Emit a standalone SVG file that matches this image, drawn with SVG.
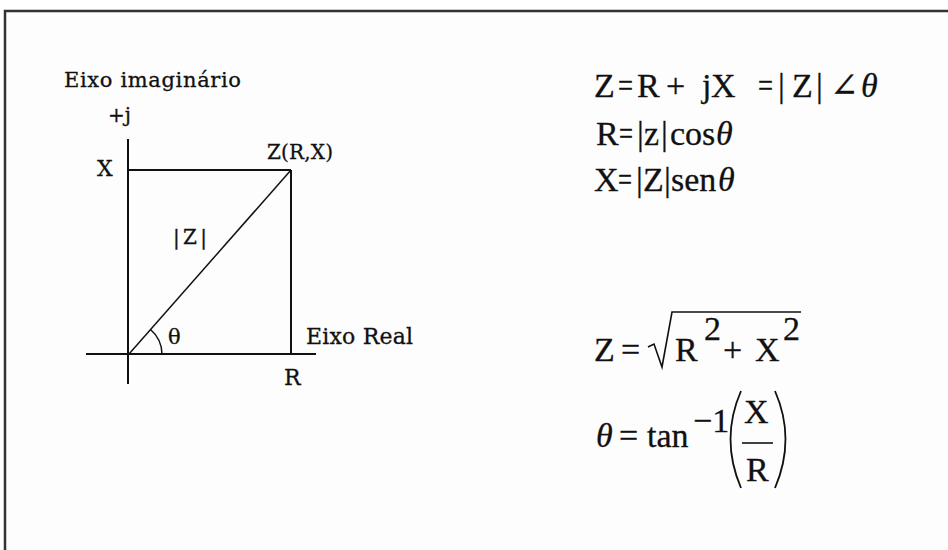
<svg xmlns="http://www.w3.org/2000/svg" width="948" height="550" viewBox="0 0 948 550">
<style>
.lbl{font-family:"DejaVu Serif","Liberation Serif",serif;fill:#111;stroke:#111;stroke-width:0.3}
.eq{font-family:"Liberation Serif","DejaVu Serif",serif;fill:#111;font-size:34px;stroke:#111;stroke-width:0.3}
.it{font-style:italic}
.ln{stroke:#111;fill:none}
</style>
<rect x="0" y="0" width="948" height="550" fill="#ffffff"/>
<rect id="frame" x="5" y="11" width="960" height="560" fill="#fdfdfd" stroke="#333" stroke-width="2.5"/>

<g id="connectors">
  <line class="ln" x1="128" y1="139" x2="128" y2="384" stroke-width="2"/>
  <line class="ln" x1="86" y1="354" x2="316" y2="354" stroke-width="2"/>
  <line class="ln" x1="129" y1="170" x2="291" y2="170" stroke-width="2"/>
  <line class="ln" x1="291" y1="170" x2="291" y2="354" stroke-width="2"/>
  <line class="ln" x1="129" y1="354" x2="291" y2="170" stroke-width="1.5"/>
  <path class="ln" d="M 150.5 329.5 A 33 33 0 0 1 162 354" stroke-width="1.5"/>
</g>

<g id="node-eixo-imaginario"><text class="lbl" x="64" y="87" font-size="21" textLength="177">Eixo imaginário</text></g>
<g id="node-plus-j"><text class="lbl" x="108" y="122" font-size="20">+j</text></g>
<g id="node-x"><text class="lbl" x="97" y="176" font-size="22">X</text></g>
<g id="node-z"><text class="lbl" x="267" y="159" font-size="20" textLength="66">Z(R,X)</text></g>
<g id="node-modz"><text class="lbl" x="173" y="244" font-size="20" textLength="34">|Z|</text></g>
<g id="node-theta"><text class="lbl" x="168" y="344" font-size="21">θ</text></g>
<g id="node-eixo-real"><text class="lbl" x="306" y="344" font-size="22" textLength="107">Eixo Real</text></g>
<g id="node-r"><text class="lbl" x="284" y="385" font-size="22">R</text></g>

<g id="eq1">
  <text class="eq" y="97"><tspan x="594">Z</tspan><tspan x="637">R</tspan><tspan x="666">+</tspan><tspan x="702">j</tspan><tspan x="711">X</tspan><tspan x="778">|</tspan><tspan x="792">Z</tspan><tspan x="816">|</tspan><tspan x="830">∠</tspan><tspan x="861" class="it">θ</tspan></text>
  <text class="eq" x="618" y="97" textLength="15" lengthAdjust="spacingAndGlyphs">=</text>
  <text class="eq" x="758" y="97" textLength="15" lengthAdjust="spacingAndGlyphs">=</text>
</g>
<g id="eq2">
  <text class="eq" y="145"><tspan x="596">R</tspan><tspan x="637">|</tspan><tspan x="644">z</tspan><tspan x="661">|</tspan><tspan x="670">cos</tspan><tspan x="716" class="it">θ</tspan></text>
  <text class="eq" x="619" y="145" textLength="14" lengthAdjust="spacingAndGlyphs">=</text>
</g>
<g id="eq3">
  <text class="eq" y="191"><tspan x="594">X</tspan><tspan x="636">|</tspan><tspan x="643">Z</tspan><tspan x="664">|</tspan><tspan x="671">sen</tspan><tspan x="718" class="it">θ</tspan></text>
  <text class="eq" x="618" y="191" textLength="14" lengthAdjust="spacingAndGlyphs">=</text>
</g>
<g id="eq4">
  <text class="eq" y="361"><tspan x="594">Z</tspan><tspan x="621">=</tspan><tspan x="675">R</tspan><tspan x="723">+</tspan><tspan x="755">X</tspan></text>
  <text class="eq" y="340" font-size="28"><tspan x="704">2</tspan><tspan x="783">2</tspan></text>
  <path class="ln" d="M 648 347 L 654 344 L 662 367 L 672 312 L 801 312" stroke-width="1.6"/>
</g>
<g id="eq5">
  <text class="eq" y="447"><tspan x="596" class="it">θ</tspan><tspan x="619">=</tspan><tspan x="647">tan</tspan></text>
  <text class="eq" y="432" font-size="22"><tspan x="693">−1</tspan></text>
  <path class="ln" d="M 741 391 Q 720 439 741 488" stroke-width="1.8"/>
  <path class="ln" d="M 775 391 Q 796 439 775 488" stroke-width="1.8"/>
  <text class="eq" y="423"><tspan x="744">X</tspan></text>
  <line class="ln" x1="742" y1="443" x2="773" y2="443" stroke-width="1.6"/>
  <text class="eq" y="481"><tspan x="746">R</tspan></text>
</g>
</svg>
